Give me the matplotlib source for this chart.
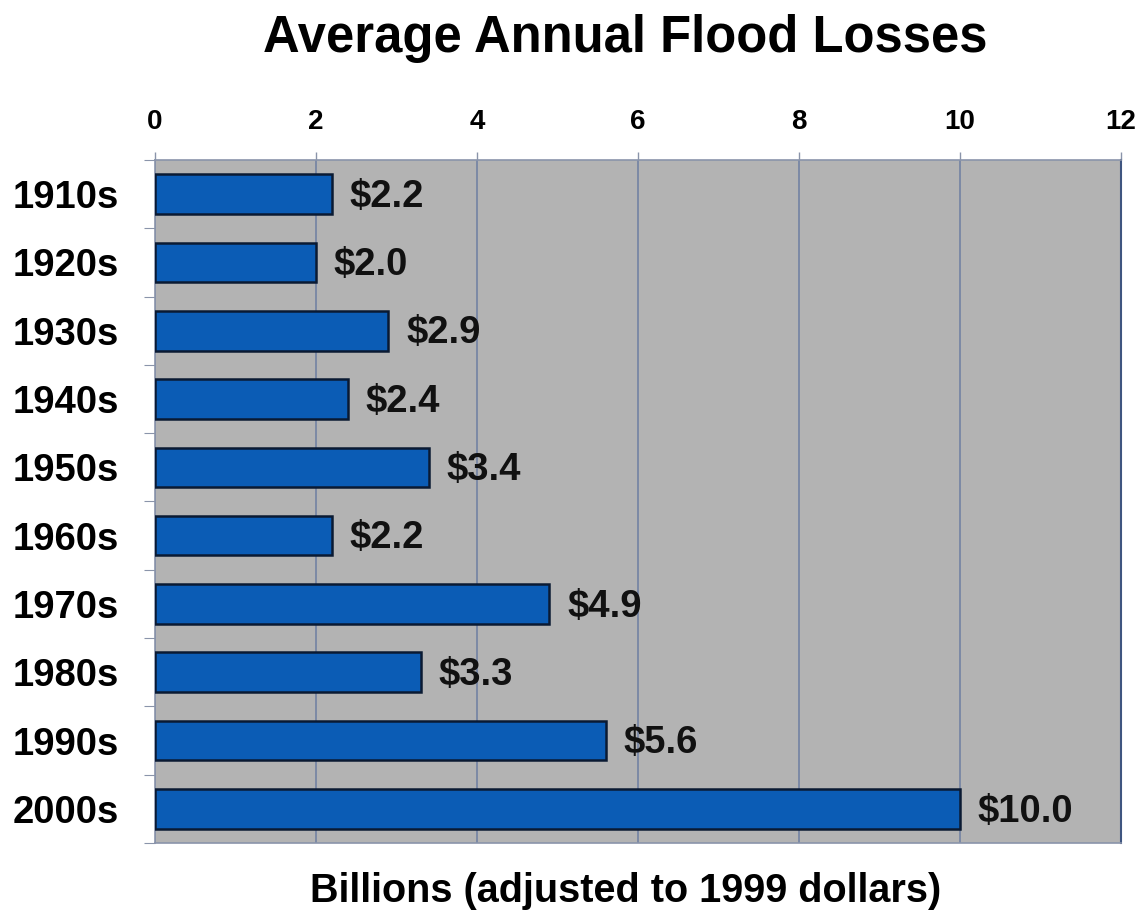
import matplotlib.pyplot as plt
import numpy as np

# decades and average annual flood losses (billions, 1999 dollars)
decades = ['1910s', '1920s', '1930s', '1940s', '1950s',
           '1960s', '1970s', '1980s', '1990s', '2000s']
losses = [2.2, 2.0, 2.9, 2.4, 3.4, 2.2, 4.9, 3.3, 5.6, 10.0]
x_ticks = [0, 2, 4, 6, 8, 10, 12]

plt.rcParams['font.family'] = ['Liberation Sans', 'DejaVu Sans']

fig = plt.figure(figsize=(11.43, 9.21), dpi=100)
ax = fig.add_axes([155 / 1143, 1 - 843 / 921, 966 / 1143, 683 / 921])

y = np.arange(len(decades))
ax.set_facecolor('#b3b3b3')
ax.barh(y, losses, height=0.58, color='#0b5cb5', edgecolor='#0a1a33',
        linewidth=1.8, zorder=3)

# value labels to the right of each bar
for yi, v in zip(y, losses):
    ax.text(v + 0.22, yi + 0.04, '$%.1f' % v, va='center', ha='left',
            fontsize=27.5, fontweight='bold', color='#111111', zorder=4)

ax.set_xlim(0, 12)
ax.set_ylim(len(decades) - 0.5, -0.5)
ax.set_xticks(x_ticks)
ax.xaxis.tick_top()
ax.tick_params(axis='x', length=6, width=1, color='#8a94aa', pad=12,
               labelsize=20)
for lab in ax.get_xticklabels():
    lab.set_fontweight('bold')
ax.grid(axis='x', color='#7382a3', linewidth=1.2, zorder=1)

# category labels between boundary ticks
ax.set_yticks(np.arange(len(decades) + 1) - 0.5)
ax.set_yticklabels([])
ax.set_yticks(y, minor=True)
ax.set_yticklabels(decades, minor=True, fontsize=27.5, fontweight='bold')
ax.tick_params(axis='y', which='major', length=8, color='#8a94aa')
ax.tick_params(axis='y', which='minor', length=0, pad=26)

for side in ['top', 'bottom', 'left']:
    ax.spines[side].set_color('#8a94aa')
    ax.spines[side].set_linewidth(1.2)
ax.spines['right'].set_color('#3f5580')
ax.spines['right'].set_linewidth(1.5)

fig.text(0.547, 0.958, 'Average Annual Flood Losses', ha='center',
         va='center', fontsize=36.5, fontweight='bold')
fig.text(0.547, 0.033, 'Billions (adjusted to 1999 dollars)', ha='center',
         va='center', fontsize=28.5, fontweight='bold')

fig.savefig('out.png', dpi=100, facecolor='white')
